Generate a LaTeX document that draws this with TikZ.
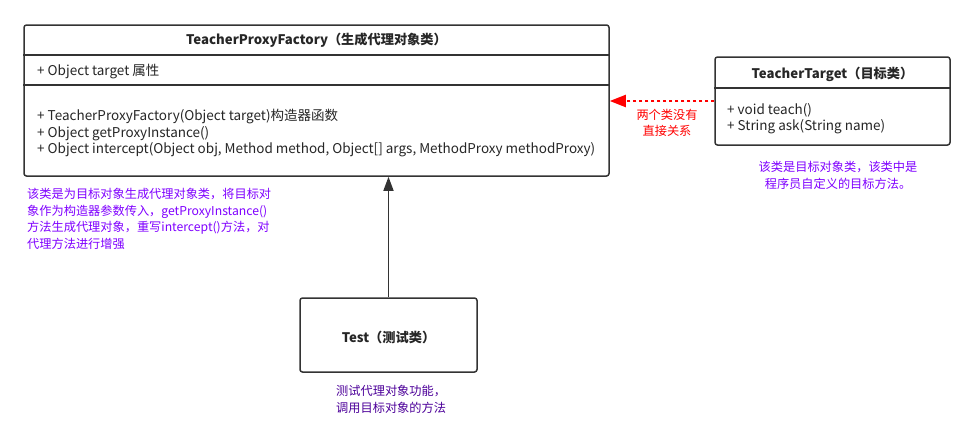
\documentclass[tikz,border=0pt]{standalone}
\usepackage{fontspec}
\setmainfont{Noto Sans CJK SC}
\usetikzlibrary{arrows.meta}
\definecolor{boxline}{HTML}{333333}
\definecolor{notepurple}{HTML}{7F00FF}
\definecolor{notedark}{HTML}{4C0099}
\tikzset{
  classbox/.style={draw=boxline, line width=1.5pt, rounded corners=2.5pt, fill=white, inner sep=0pt},
  divider/.style={draw=boxline, line width=1.5pt},
  txt/.style={inner sep=0pt, font=\fontsize{13.5}{16.5}\selectfont, text=black!85},
  ttl/.style={inner sep=0pt, font=\fontsize{13.2}{16.5}\selectfont\bfseries, text=black!85},
  note/.style={inner sep=0pt, font=\fontsize{12.2}{16.5}\selectfont, align=left},
}
\begin{document}
\begin{tikzpicture}[x=1pt,y=-1pt]
\useasboundingbox (0,0) rectangle (975,445);
% boxes
\node[classbox, minimum width=585pt, minimum height=151pt] (factory) at (316.5,100.5) {};
\node[classbox, minimum width=235pt, minimum height=88pt] (target) at (832.5,101) {};
\node[classbox, minimum width=177pt, minimum height=74pt] (test) at (388.5,335) {};
% dividers
\coordinate (fd1) at (0,55);
\coordinate (fd2) at (0,85);
\coordinate (td1) at (0,88);
\draw[divider] (factory.west |- fd1) -- (factory.east |- fd1);
\draw[divider] (factory.west |- fd2) -- (factory.east |- fd2);
\draw[divider] (target.west |- td1) -- (target.east |- td1);
% factory texts
\node[ttl] (ftitle) at (316.5,40) {TeacherProxyFactory（生成代理对象类）};
\node[txt, anchor=west] (fattr) at (37,72) {+ Object target 属性};
\node[txt, anchor=west] (fm1) at (37,117) {+ TeacherProxyFactory(Object target)构造器函数};
\node[txt, anchor=west] (fm2) at (37,133.5) {+ Object getProxyInstance()};
\node[txt, anchor=west] (fm3) at (37,150) {+ Object intercept(Object obj, Method method, Object[] args, MethodProxy methodProxy)};
% target texts
\node[ttl] (ttitle) at (832.5,74) {TeacherTarget（目标类）};
\node[txt, anchor=west] (tm1) at (727,110) {+ void teach()};
\node[txt, anchor=west] (tm2) at (727,126.5) {+ String ask(String name)};
% test text
\node[ttl] (testtitle) at (388.5,337) {Test（测试类）};
% connectors
\draw[boxline, line width=1.5pt, -{Triangle[length=14pt,width=10pt]}] (test.north) -- (test.north |- factory.south);
\draw[red, line width=2pt, dash pattern=on 3pt off 3pt, -{Triangle[length=16pt,width=12pt]}] (target.west) -- (target.west -| factory.east);
% labels
\node[note, text=red, align=center] (rel) at (667,123) {两个类没有\\直接关系};
\node[note, text=notepurple, align=center] (tnote) at (838,175.5) {该类是目标对象类，该类中是\\程序员自定义的目标方法。};
\node[note, text=notepurple, anchor=north west] (fnote) at (27,188) {该类是为目标对象生成代理对象类，将目标对\\象作为构造器参数传入，getProxyInstance()\\方法生成代理对象，重写intercept()方法，对\\代理方法进行增强};
\node[note, text=notedark, anchor=north west] (testnote) at (336,385) {测试代理对象功能，\\调用目标对象的方法};
\end{tikzpicture}
\end{document}
